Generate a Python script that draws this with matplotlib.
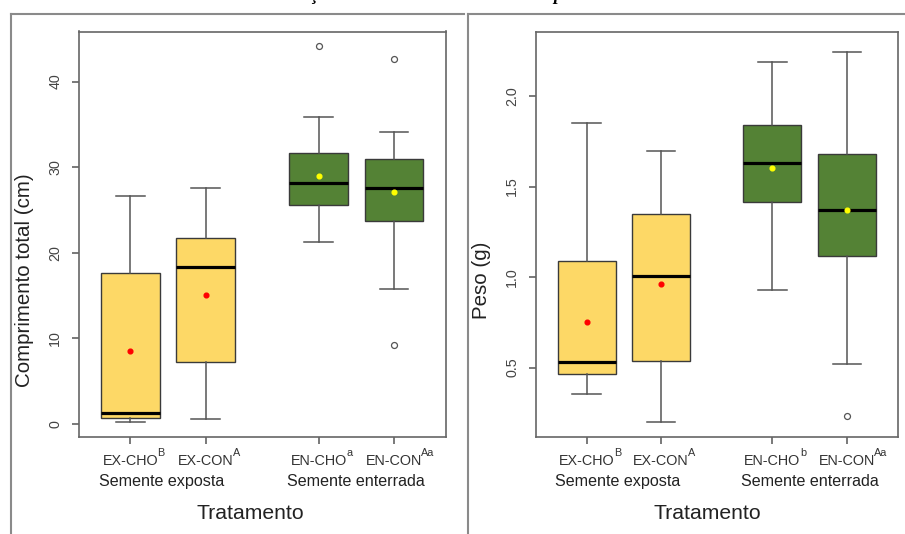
import matplotlib
matplotlib.use('Agg')
import matplotlib.pyplot as plt
from matplotlib.lines import Line2D

plt.rcParams['font.family'] = ['Liberation Sans', 'DejaVu Sans']
plt.rcParams['mathtext.fontset'] = 'custom'
plt.rcParams['mathtext.rm'] = 'Liberation Sans'

# ---------------- data ----------------
groups = ['EX-CHO', 'EX-CON', 'EN-CHO', 'EN-CON']
group_pos = [1, 2, 3.5, 4.5]
blocks = ['Semente exposta', 'Semente enterrada']
block_pos = [1.42, 4.0]

comp_whislo = [0.23, 0.58, 21.2, 15.8]
comp_q1 = [0.66, 7.2, 25.6, 23.7]
comp_med = [1.2, 18.3, 28.1, 27.5]
comp_q3 = [17.6, 21.7, 31.6, 31.0]
comp_whishi = [26.6, 27.5, 35.9, 34.1]
comp_mean = [8.5, 15.0, 29.0, 27.1]
comp_fliers = [[], [], [44.1], [42.6, 9.2]]
comp_letters = ['B', 'A', 'a', 'Aa']
comp_yticks = [0, 10, 20, 30, 40]

peso_whislo = [0.355, 0.20, 0.93, 0.52]
peso_q1 = [0.463, 0.537, 1.416, 1.118]
peso_med = [0.531, 1.008, 1.630, 1.368]
peso_q3 = [1.087, 1.348, 1.841, 1.679]
peso_whishi = [1.85, 1.698, 2.19, 2.242]
peso_mean = [0.752, 0.960, 1.605, 1.372]
peso_fliers = [[], [], [], [0.23]]
peso_letters = ['B', 'A', 'b', 'Aa']
peso_yticks = [0.5, 1.0, 1.5, 2.0]
peso_yticklabels = ['0.5', '1.0', '1.5', '2.0']

box_colors = ['#FDD866', '#FDD866', '#548235', '#548235']
mean_colors = ['#FF0000', '#FF0000', '#FFFF00', '#FFFF00']

W, H = 905, 534
fig = plt.figure(figsize=(W / 100, H / 100), dpi=100)


def px_rect(x0, y0, x1, y1):
    return [x0 / W, 1 - y1 / H, (x1 - x0) / W, (y1 - y0) / H]


def panel(ax, whislo, q1, med, q3, whishi, mean, fliers, letters,
          yticks, yticklabels, ylim, ylabel, xlab_x):
    stats = []
    for i in range(len(groups)):
        stats.append(dict(whislo=whislo[i], q1=q1[i], med=med[i], q3=q3[i],
                          whishi=whishi[i], fliers=fliers[i], label=groups[i]))
    bp = ax.bxp(stats, positions=group_pos, widths=0.78, capwidths=0.38,
                patch_artist=True, showfliers=True, manage_ticks=False,
                boxprops=dict(edgecolor='#3a3a3a', linewidth=1.0),
                whiskerprops=dict(color='#555555', linewidth=1.1),
                capprops=dict(color='#555555', linewidth=1.1),
                medianprops=dict(color='black', linewidth=2.3),
                flierprops=dict(marker='o', markerfacecolor='none',
                                markeredgecolor='#555555', markersize=4.3,
                                markeredgewidth=0.9))
    for patch, c in zip(bp['boxes'], box_colors):
        patch.set_facecolor(c)
    for p, m, c in zip(group_pos, mean, mean_colors):
        ax.plot([p], [m], 'o', color=c, markersize=3.4, zorder=5)

    ax.set_xlim(0.32, 5.19)
    ax.set_ylim(*ylim)
    ax.set_xticks(group_pos)
    ax.set_xticklabels([])
    ax.set_yticks(yticks)
    ax.set_yticklabels(yticklabels)
    ax.tick_params(axis='both', length=5, width=1.1, color='#555555',
                   labelsize=10.3, labelcolor='#444444')
    ax.tick_params(axis='y', labelrotation=90, pad=7)
    for lab in ax.get_yticklabels():
        lab.set_va('center')
        lab.set_ha('right')
    for s in ax.spines.values():
        s.set_color('#666666')
        s.set_linewidth(1.2)

    xt = ax.get_xaxis_transform()
    for p, g, l in zip(group_pos, groups, letters):
        t = ax.text(p, -0.0617, g, transform=xt, ha='center', va='center',
                    fontsize=10.4, color='#333333')
        ax.annotate(l, xy=(1.0, 1.0), xycoords=t, xytext=(-0.5, -2.2),
                    textcoords='offset points', ha='left', va='bottom',
                    fontsize=7.8, color='#333333')
    for p, b in zip(block_pos, blocks):
        ax.text(p, -0.11, b, transform=xt, ha='center', va='center',
                fontsize=11.6, color='#222222')
    ax.text(xlab_x, -0.189, 'Tratamento', transform=ax.transAxes,
            ha='center', va='center', fontsize=15.2, color='#222222')
    ax.set_ylabel(ylabel, fontsize=14.8, color='#222222')


ax1 = fig.add_axes(px_rect(79, 31.5, 446, 436.5))
panel(ax1, comp_whislo, comp_q1, comp_med, comp_q3, comp_whishi, comp_mean,
      comp_fliers, comp_letters, comp_yticks, [str(v) for v in comp_yticks],
      (-1.5, 45.85), 'Comprimento total (cm)', 0.466)
ax1.yaxis.set_label_coords(-0.123, 0.385)

ax2 = fig.add_axes(px_rect(536, 31.5, 898, 436.5))
panel(ax2, peso_whislo, peso_q1, peso_med, peso_q3, peso_whishi, peso_mean,
      peso_fliers, peso_letters, peso_yticks, peso_yticklabels,
      (0.119, 2.357), 'Peso (g)', 0.474)
ax2.yaxis.set_label_coords(-0.125, 0.385)

# outer document frames
fc = '#8a8a8a'
fig.add_artist(Line2D([11 / W, 11 / W], [0, 1 - 14 / H], transform=fig.transFigure, color=fc, lw=1.5))
fig.add_artist(Line2D([11 / W, 464 / W], [1 - 14 / H, 1 - 14 / H], transform=fig.transFigure, color=fc, lw=1.5))
fig.add_artist(Line2D([468 / W, 468 / W], [0, 1 - 14 / H], transform=fig.transFigure, color=fc, lw=1.5))
fig.add_artist(Line2D([468 / W, 1], [1 - 14 / H, 1 - 14 / H], transform=fig.transFigure, color=fc, lw=1.5))

# cropped caption fragments at top
fig.text(315 / W, 1 + 0.5 / H, 'ç', family='Liberation Serif', style='italic',
         weight='bold', fontsize=13, ha='center', va='baseline')
fig.text(558 / W, 1 + 0.5 / H, 'p', family='Liberation Serif', style='italic',
         weight='bold', fontsize=13, ha='center', va='baseline')

fig.savefig('out.png', dpi=100)
